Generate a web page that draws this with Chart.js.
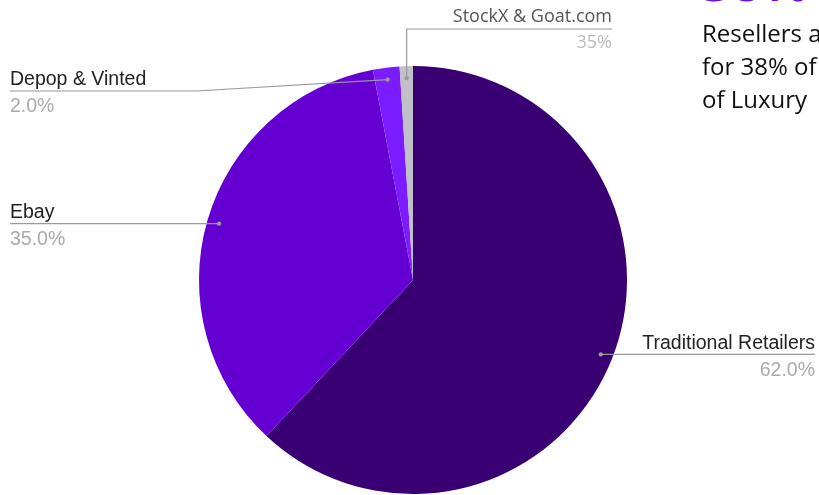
<!DOCTYPE html>
<html>
<head>
<meta charset="utf-8">
<script src="https://cdn.jsdelivr.net/npm/chart.js@4/dist/chart.umd.min.js"></script>
<style>
  html, body { margin: 0; padding: 0; background: #fff; overflow: hidden; }
  #wrap { position: relative; width: 819px; height: 495px; overflow: hidden; }
  canvas { position: absolute; left: 0; top: 0; }
  .side { position: absolute; left: 702px; font-family: "Open Sans", sans-serif; font-size: 24px; color: #111; white-space: nowrap; line-height: 33px; }
  .big { position: absolute; left: 702px; top: -49px; font-family: "Open Sans", sans-serif; font-weight: 700; font-size: 52px; color: #6a0fe6; white-space: nowrap; line-height: 60px; }
</style>
</head>
<body>
<div id="wrap">
  <canvas id="c" width="819" height="495"></canvas>
  <div class="big">38%</div>
  <div class="side" style="top:16px">Resellers account<br>for 38% of sales<br>of Luxury</div>
</div>
<script>
const categories = ['Traditional Retailers', 'Ebay', 'Depop & Vinted', 'StockX & Goat.com'];
const shares = [62, 35, 2, 1];
const shareLabels = ['62.0%', '35.0%', '2.0%', '35%'];
const sliceColors = ['#380073', '#6500d2', '#7a1cff', '#c0c0c8'];

// callout layout (label anchor geometry)
const callouts = [
  { path: (d) => [[d.x, d.y], [815, d.y]], align: 'right', tx: 815, nameY: 349, valY: 376, font: '19.5px "Liberation Sans", Arial, sans-serif', nameColor: '#222', valColor: '#aaa' },
  { path: (d) => [[d.x, d.y], [10, d.y]], align: 'left', tx: 10, nameY: 218, valY: 245, font: '19.5px "Liberation Sans", Arial, sans-serif', nameColor: '#222', valColor: '#aaa' },
  { path: (d) => [[d.x, d.y], [196, 91], [10, 91]], align: 'left', tx: 10, nameY: 85, valY: 112, font: '19.5px "Liberation Sans", Arial, sans-serif', nameColor: '#222', valColor: '#aaa' },
  { path: (d) => [[d.x, d.y], [d.x, 29], [612, 29]], align: 'right', tx: 612, nameY: 22, valY: 48, font: '18px "Open Sans", sans-serif', nameColor: '#555', valColor: '#bbb' }
];

const calloutPlugin = {
  id: 'callouts',
  afterDatasetsDraw(chart) {
    const ctx = chart.ctx;
    const meta = chart.getDatasetMeta(0);
    meta.data.forEach((arc, i) => {
      const p = arc.getProps(['x', 'y', 'startAngle', 'endAngle', 'outerRadius'], true);
      const mid = (p.startAngle + p.endAngle) / 2;
      const r = p.outerRadius - 12;
      const d = { x: p.x + Math.cos(mid) * r, y: p.y + Math.sin(mid) * r };
      const c = callouts[i];
      const pts = c.path(d);
      ctx.save();
      ctx.strokeStyle = '#9a9a9a';
      ctx.lineWidth = 1.2;
      ctx.beginPath();
      ctx.moveTo(pts[0][0], pts[0][1]);
      for (let k = 1; k < pts.length; k++) ctx.lineTo(pts[k][0], pts[k][1]);
      ctx.stroke();
      ctx.fillStyle = '#9a9a9a';
      ctx.beginPath();
      ctx.arc(d.x, d.y, 2.2, 0, Math.PI * 2);
      ctx.fill();
      ctx.font = c.font;
      ctx.textAlign = c.align;
      ctx.textBaseline = 'alphabetic';
      ctx.fillStyle = c.nameColor;
      ctx.fillText(categories[i], c.tx, c.nameY);
      ctx.fillStyle = c.valColor;
      ctx.fillText(shareLabels[i], c.tx, c.valY);
      ctx.restore();
    });
  }
};

new Chart(document.getElementById('c'), {
  type: 'pie',
  data: {
    labels: categories,
    datasets: [{ data: shares, backgroundColor: sliceColors, borderWidth: 0 }]
  },
  options: {
    responsive: false,
    animation: false,
    layout: { padding: { top: 66, bottom: 1, left: 7, right: 0 } },
    plugins: { legend: { display: false }, tooltip: { enabled: false } }
  },
  plugins: [calloutPlugin]
});
</script>
</body>
</html>
